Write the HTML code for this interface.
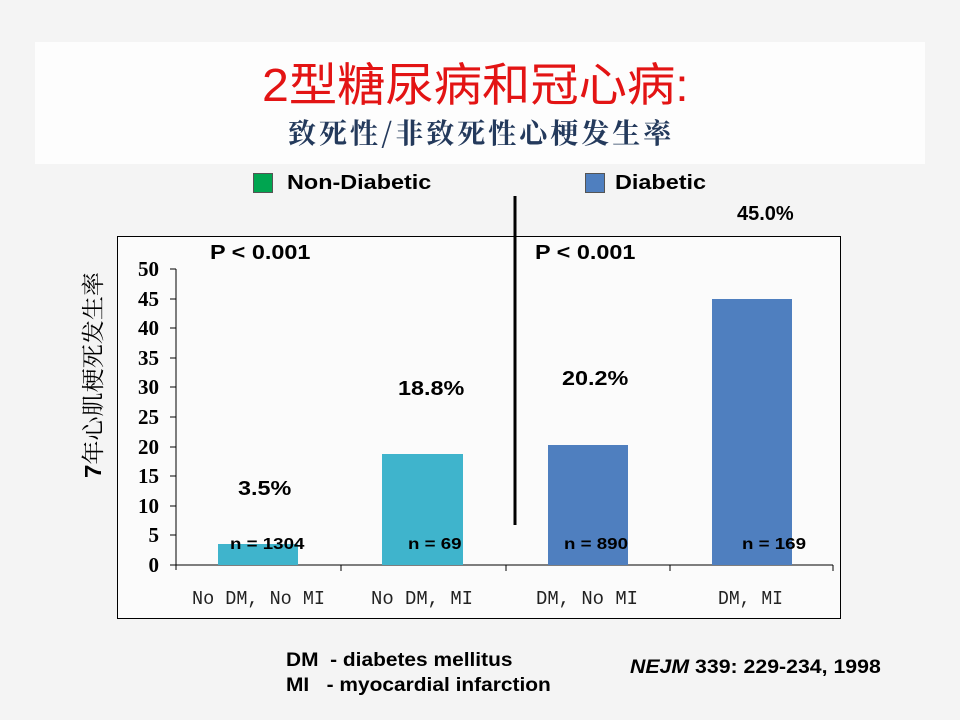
<!DOCTYPE html>
<html><head><meta charset="utf-8"><style>
body{margin:0;width:960px;height:720px;overflow:hidden;background:#f4f4f4;font-family:"Liberation Sans","Noto Sans CJK SC",sans-serif;position:relative}
.a{position:absolute;white-space:nowrap}
.b{font-weight:bold;font-size:20px;color:#000;transform:scaleX(1.17);transform-origin:0 0}
.n{font-size:16px;font-weight:bold;transform:scaleX(1.17);transform-origin:0 0}
</style></head><body>
<div class="a" style="left:35px;top:42px;width:890px;height:122px;background:#fdfdfd"></div>
<div class="a" style="left:262px;top:58px;font-size:46px;color:#e31414;line-height:54px;transform:scaleX(1.05);transform-origin:0 0">2型糖尿病和冠心病:</div>
<div class="a" style="left:288px;top:115px;font-size:28px;color:#243a5c;letter-spacing:3px;font-weight:bold;font-family:'Noto Serif CJK SC',serif;line-height:34px">致死性/非致死性心梗发生率</div>
<div class="a" style="left:253px;top:173px;width:20px;height:20px;background:#00a550;border:1px solid #555;box-sizing:border-box"></div>
<div class="a b" style="left:287px;top:172px">Non-Diabetic</div>
<div class="a" style="left:585px;top:173px;width:20px;height:20px;background:#4f7fbf;border:1px solid #555;box-sizing:border-box"></div>
<div class="a b" style="left:615px;top:172px">Diabetic</div>
<div class="a" style="left:737px;top:203px;font-size:20px;font-weight:bold">45.0%</div>
<div class="a" style="left:117px;top:236px;width:724px;height:383px;border:1px solid #000;box-sizing:border-box;background:#fbfbfb"></div>
<svg class="a" style="left:0;top:0" width="960" height="720">
<g font-family="Liberation Serif,serif" font-size="21" font-weight="bold" text-anchor="end" fill="#000">
<text x="159" y="276">50</text><text x="159" y="306">45</text><text x="159" y="335">40</text><text x="159" y="365">35</text><text x="159" y="394">30</text><text x="159" y="424">25</text><text x="159" y="454">20</text><text x="159" y="483">15</text><text x="159" y="513">10</text><text x="159" y="542">5</text><text x="159" y="572">0</text>
</g>
<g stroke="#000" stroke-width="1">
<line x1="176" y1="269" x2="176" y2="570"/><line x1="176" y1="565" x2="833" y2="565"/>
<line x1="170" y1="269" x2="176" y2="269"/><line x1="170" y1="299" x2="176" y2="299"/><line x1="170" y1="328" x2="176" y2="328"/><line x1="170" y1="358" x2="176" y2="358"/><line x1="170" y1="387" x2="176" y2="387"/><line x1="170" y1="417" x2="176" y2="417"/><line x1="170" y1="447" x2="176" y2="447"/><line x1="170" y1="476" x2="176" y2="476"/><line x1="170" y1="506" x2="176" y2="506"/><line x1="170" y1="535" x2="176" y2="535"/><line x1="170" y1="565" x2="176" y2="565"/>
<line x1="341" y1="565" x2="341" y2="571"/><line x1="506" y1="565" x2="506" y2="571"/><line x1="670" y1="565" x2="670" y2="571"/><line x1="833" y1="565" x2="833" y2="571"/>
</g>
<rect x="218" y="544" width="80" height="21" fill="#3fb4cc"/>
<rect x="382" y="454" width="81" height="111" fill="#3fb4cc"/>
<rect x="548" y="445" width="80" height="120" fill="#4f7fbf"/>
<rect x="712" y="299" width="80" height="266" fill="#4f7fbf"/>
<line x1="515" y1="196" x2="515" y2="525" stroke="#000" stroke-width="3"/>
<g font-family="Liberation Mono,monospace" font-size="19" fill="#222">
<text x="192" y="604" textLength="133" lengthAdjust="spacingAndGlyphs">No DM, No MI</text>
<text x="371" y="604" textLength="102" lengthAdjust="spacingAndGlyphs">No DM, MI</text>
<text x="536" y="604" textLength="102" lengthAdjust="spacingAndGlyphs">DM, No MI</text>
<text x="718" y="604" textLength="65" lengthAdjust="spacingAndGlyphs">DM, MI</text>
</g>
<text transform="translate(101,375) rotate(-90)" text-anchor="middle" font-size="23" font-family="'Noto Serif CJK SC',serif" textLength="206" lengthAdjust="spacingAndGlyphs"><tspan font-weight="bold" font-family="Liberation Sans">7</tspan>年心肌梗死发生率</text>
</svg>
<div class="a b" style="left:210px;top:242px">P &lt; 0.001</div>
<div class="a b" style="left:535px;top:242px">P &lt; 0.001</div>
<div class="a b" style="left:238px;top:478px">3.5%</div>
<div class="a b" style="left:398px;top:378px">18.8%</div>
<div class="a b" style="left:562px;top:368px">20.2%</div>
<div class="a n" style="left:230px;top:536px">n = 1304</div>
<div class="a n" style="left:408px;top:536px">n = 69</div>
<div class="a n" style="left:564px;top:536px">n = 890</div>
<div class="a n" style="left:742px;top:536px">n = 169</div>
<div class="a" style="left:286px;top:648px;font-size:19px;font-weight:bold;line-height:25px;transform:scaleX(1.1);transform-origin:0 0">DM&nbsp; - diabetes mellitus<br>MI&nbsp;&nbsp; - myocardial infarction</div>
<div class="a" style="left:630px;top:657px;font-size:19px;font-weight:bold;transform:scaleX(1.12);transform-origin:0 0"><i>NEJM</i> 339: 229-234, 1998</div>
</body></html>
